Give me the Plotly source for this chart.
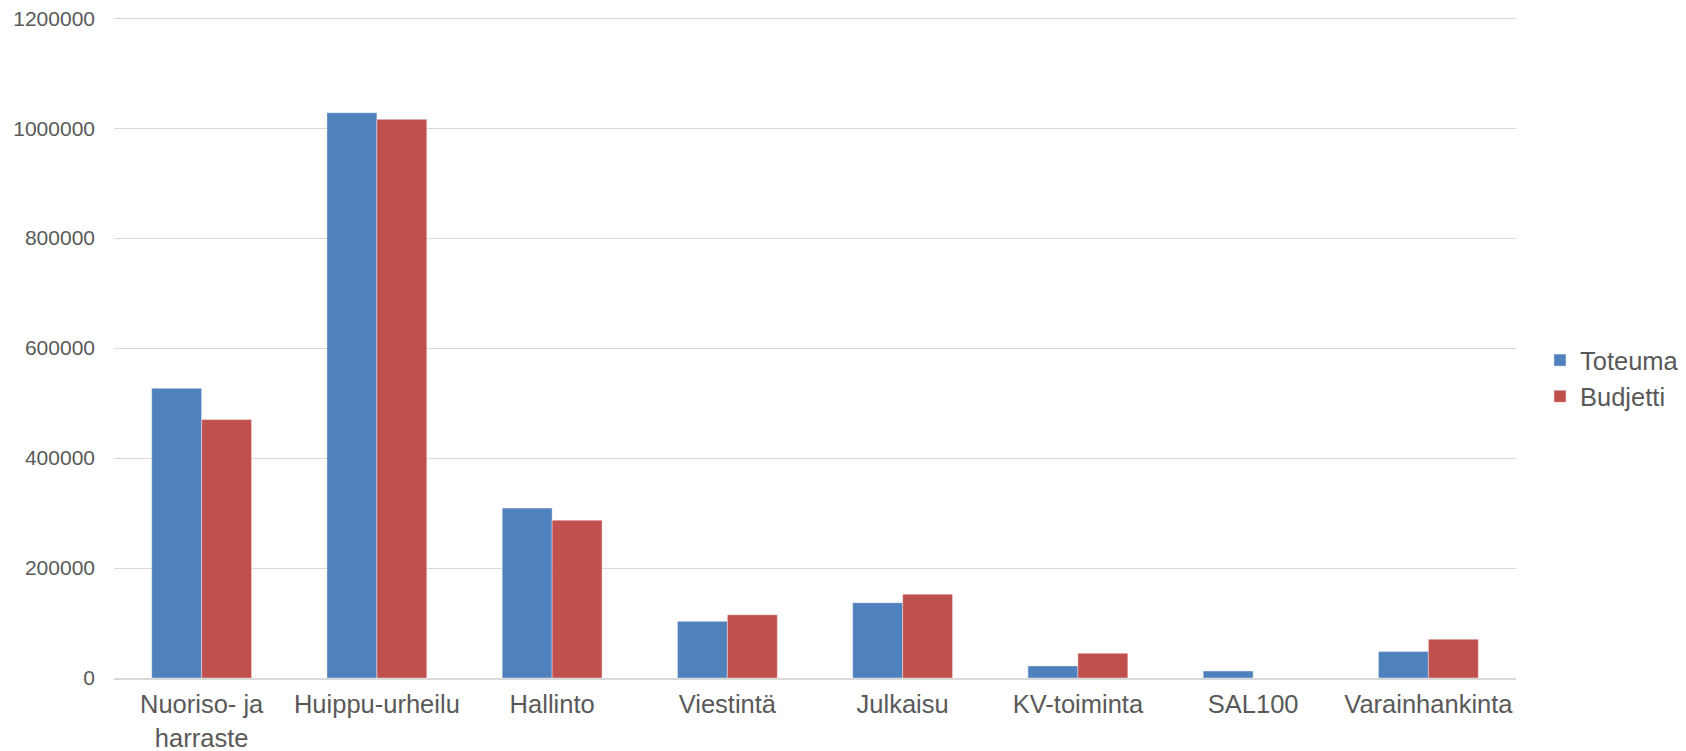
import plotly.graph_objects as go

# Categories and values
categories = ['Nuoriso- ja<br>harraste', 'Huippu-urheilu', 'Hallinto', 'Viestintä',
              'Julkaisu', 'KV-toiminta', 'SAL100', 'Varainhankinta']
toteuma = [527000, 1028000, 309000, 103000, 137000, 22000, 12700, 48000]
budjetti = [470000, 1016000, 287000, 115000, 152500, 45000, 0, 70500]

y_ticks = [0, 200000, 400000, 600000, 800000, 1000000, 1200000]

fig = go.Figure()

fig.add_trace(go.Bar(
    x=categories,
    y=toteuma,
    name='Toteuma',
    marker=dict(color='#4F81BD', line=dict(color='rgba(255,255,255,0.4)', width=1))
))

fig.add_trace(go.Bar(
    x=categories,
    y=budjetti,
    name='Budjetti',
    marker=dict(color='#C0504D', line=dict(color='rgba(255,255,255,0.4)', width=1))
))

fig.update_layout(
    width=1686,
    height=751,
    margin=dict(l=114, r=170, t=16, b=73),
    paper_bgcolor='white',
    plot_bgcolor='white',
    font=dict(family='Liberation Sans, Arial, sans-serif', color='#595959'),
    barmode='group',
    bargap=0.43,
    bargroupgap=0,
    xaxis=dict(
        showline=True,
        linecolor='#d9d9d9',
        linewidth=1.5,
        tickfont=dict(size=25.5),
        ticks='',
        ticklabelstandoff=3,
        automargin=False,
    ),
    yaxis=dict(
        # iets boven 1200000 zodat de bovenste rasterlijn getekend wordt
        range=[0, 1204000],
        tickvals=y_ticks,
        tickformat='d',
        showgrid=True,
        gridcolor='#d9d9d9',
        gridwidth=1,
        zeroline=False,
        tickfont=dict(size=21),
        ticklabelstandoff=18,
        automargin=False,
    ),
    legend=dict(
        xref='container',
        yref='container',
        x=0.9134,
        y=0.496,
        yanchor='middle',
        xanchor='left',
        font=dict(size=25.5),
        itemwidth=30,
        tracegroupgap=0,
    ),
    showlegend=True,
)

# body-marge weghalen zodat de figuur precies in het venster past
fig.write_html("out.html", config={'displayModeBar': False},
               post_script="document.body.style.margin='0';")
